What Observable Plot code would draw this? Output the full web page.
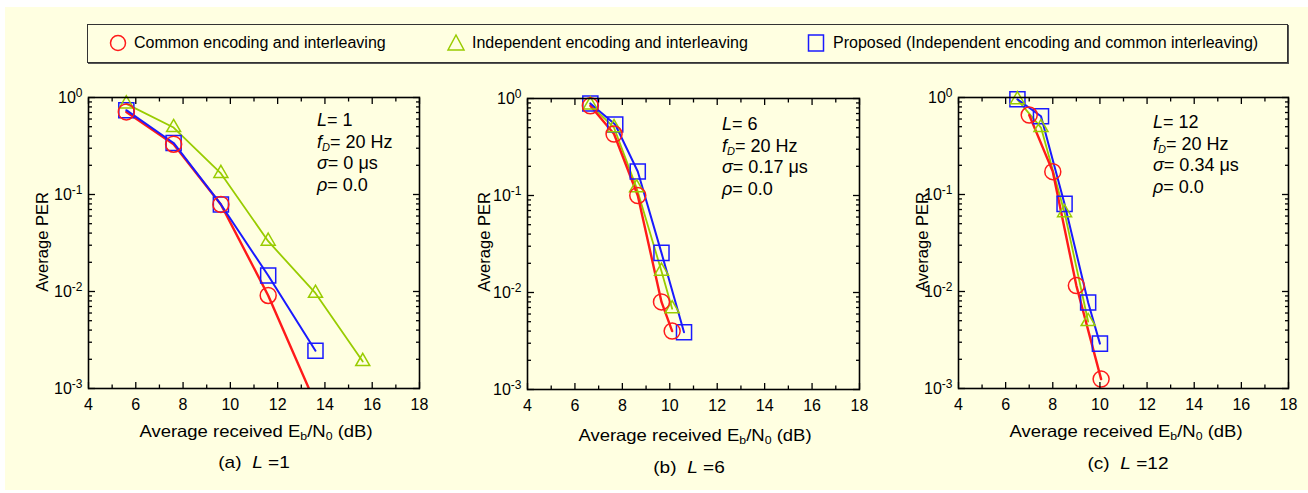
<!DOCTYPE html>
<html><head><meta charset="utf-8">
<script src="https://cdn.jsdelivr.net/npm/d3@7"></script>
<script src="https://cdn.jsdelivr.net/npm/@observablehq/plot@0.6"></script>
<style>
html,body{margin:0;padding:0;background:#fff;}
#root{position:relative;width:1308px;height:493px;overflow:hidden;font-family:"Liberation Sans",Arial,sans-serif;color:#000;}
#bg{position:absolute;left:5px;top:7px;right:0;bottom:3px;background:#ffffe1;}
.abs{position:absolute;white-space:nowrap;line-height:18px;}
.c{transform:translate(-50%,-50%);}
.cw{transform:translate(-50%,-50%) scaleX(1.12);}
.rot{transform:translate(-50%,-50%) rotate(-90deg);}
sub{font-size:11px;vertical-align:-3px;line-height:0;}
.ann{font-size:18px;line-height:21.7px;}
.chart{position:absolute;}
#legend{position:absolute;left:87px;top:24px;width:1199px;height:37px;border:1px solid #333;box-shadow:1px 1px 0 #555;}
</style></head>
<body><div id="root"><div id="bg"></div></div>
<script>
// ---------------- data ----------------
const seriesNames = ["Common encoding and interleaving", "Independent encoding and interleaving", "Proposed (Independent encoding and common interleaving)"];
const seriesColors = ["#ff1a1a", "#99cc00", "#1a1aff"];
const seriesSymbols = ["circle", "triangle", "square"];
const xTicks = [4, 6, 8, 10, 12, 14, 16, 18];
const xMinorTicks = [5, 7, 9, 11, 13, 15, 17];
const yTicks = [1e-3, 1e-2, 1e-1, 1];
const panelTags = ["(a)", "(b)", "(c)"];
const panelL = ["1", "6", "12"];
const panelSigma = ["0", "0.17", "0.34"];
const panelRho = ["0.0", "0.0", "0.0"];
const fD = "20";

// panel (a) L = 1
const aCommonX = [5.6, 7.6, 9.6, 11.6, 13.6];
const aCommonY = [0.71, 0.33, 0.079, 0.0091, 0.0007];
const aIndepX = [5.6, 7.6, 9.6, 11.6, 13.6, 15.6];
const aIndepY = [0.86, 0.49, 0.165, 0.033, 0.0096, 0.0019];
const aPropX = [5.6, 7.6, 9.6, 11.6, 13.6];
const aPropY = [0.74, 0.34, 0.079, 0.0146, 0.00245];
// panel (b) L = 6
const bCommonX = [6.65, 7.65, 8.65, 9.65, 10.1];
const bCommonY = [0.84, 0.43, 0.1, 0.008, 0.004];
const bIndepX = [6.65, 7.65, 8.6, 9.65, 10.1];
const bIndepY = [0.86, 0.5, 0.12, 0.0166, 0.0068];
const bPropX = [6.65, 7.7, 8.65, 9.65, 10.6];
const bPropY = [0.89, 0.54, 0.177, 0.0256, 0.0039];
// panel (c) L = 12
const cCommonX = [7.0, 8.0, 9.0, 10.05];
const cCommonY = [0.66, 0.172, 0.0115, 0.00125];
const cIndepX = [6.5, 7.5, 8.5, 9.5];
const cIndepY = [0.95, 0.49, 0.065, 0.0049];
const cPropX = [6.5, 7.5, 8.5, 9.5, 10.0];
const cPropY = [0.96, 0.64, 0.08, 0.0077, 0.0029];

// ---------------- layout ----------------
const root = document.getElementById("root");
function addDiv(html, cls, left, top, style = "") {
  const d = document.createElement("div");
  d.className = "abs " + cls;
  d.style.cssText = `left:${left}px;top:${top}px;` + style;
  d.innerHTML = html;
  root.appendChild(d);
  return d;
}

// legend
const legend = document.createElement("div");
legend.id = "legend";
root.appendChild(legend);
const legendPos = [[118, 134], [456, 472], [816, 833]];
function symbolSvg(sym, color) {
  let shape;
  if (sym === "circle") shape = `<circle cx="10" cy="10" r="7.5" fill="none" stroke="${color}" stroke-width="1.5"/>`;
  else if (sym === "triangle") shape = `<path d="M10,2 L18,17 L2,17 Z" fill="none" stroke="${color}" stroke-width="1.5"/>`;
  else shape = `<rect x="2.5" y="2" width="15" height="16" fill="none" stroke="${color}" stroke-width="1.5"/>`;
  return `<svg width="20" height="20" style="display:block">${shape}</svg>`;
}
seriesNames.forEach((name, i) => {
  addDiv(symbolSvg(seriesSymbols[i], seriesColors[i]), "", legendPos[i][0] - 10, 33);
  addDiv(name, "", legendPos[i][1], 34, "font-size:16px;");
});

const panels = [
  {left: 0, width: 440, ml: 88, mr: 21, top: 70, height: 350, mt: 27, mb: 32,
   series: [[aCommonX, aCommonY], [aIndepX, aIndepY], [aPropX, aPropY]],
   ylab: 42, xlab: [256, 431], cap: [254, 463], ann: [317, 110]},
  {left: 440, width: 440, ml: 87, mr: 21, top: 70, height: 350, mt: 28, mb: 31,
   series: [[bCommonX, bCommonY], [bIndepX, bIndepY], [bPropX, bPropY]],
   ylab: 484, xlab: [695, 435], cap: [689, 468], ann: [722, 114]},
  {left: 880, width: 428, ml: 78, mr: 20, top: 70, height: 350, mt: 27, mb: 32,
   series: [[cCommonX, cCommonY], [cIndepX, cIndepY], [cPropX, cPropY]],
   ylab: 922, xlab: [1126, 431], cap: [1128, 464], ann: [1153, 112]}
];

const yMinor = [];
[1e-3, 1e-2, 1e-1].forEach(d => { for (let k = 2; k <= 9; k++) yMinor.push(d * k); });

panels.forEach((p, pi) => {
  const rows = p.series.map(([xs, ys], si) => xs.map((x, i) => ({x, y: ys[i], s: si})));
  const lineW = [2.4, 1.8, 2.0];
  const dotR = [8, 5.2, 8.5];
  const lineOrder = [1, 0, 2];
  const dotOrder = [2, 1, 0];
  const marks = [];
  lineOrder.forEach(si => marks.push(Plot.line(rows[si], {x: "x", y: "y", stroke: seriesColors[si], strokeWidth: lineW[si], clip: true})));
  dotOrder.forEach(si => marks.push(Plot.dot(rows[si].filter(d => d.y >= 1e-3), {x: "x", y: "y", symbol: seriesSymbols[si], r: dotR[si], stroke: seriesColors[si], strokeWidth: 1.5, fill: "none"})));
  const blank = () => "";
  const MJ = 6, MN = 3.5;
  const tk = {tickFormat: blank, label: null, strokeWidth: 1.3};
  marks.push(
    Plot.axisX({anchor: "bottom", ticks: xTicks, tickSize: 0, tickPadding: 10, tickFormat: d => String(d), fontSize: 16, label: null}),
    Plot.axisX({anchor: "bottom", ticks: xTicks, tickSize: MJ, dy: -MJ, ...tk}),
    Plot.axisX({anchor: "bottom", ticks: xMinorTicks, tickSize: MN, dy: -MN, ...tk}),
    Plot.axisX({anchor: "top", ticks: xTicks, tickSize: MJ, dy: MJ, ...tk}),
    Plot.axisX({anchor: "top", ticks: xMinorTicks, tickSize: MN, dy: MN, ...tk}),
    Plot.axisY({anchor: "left", ticks: yTicks, tickSize: 0, tickPadding: 6, tickFormat: d => "10^" + Math.round(Math.log10(d)), fontSize: 16, label: null}),
    Plot.axisY({anchor: "left", ticks: yTicks, tickSize: 7, dx: 7, ...tk}),
    Plot.axisY({anchor: "left", ticks: yMinor, tickSize: 4, dx: 4, ...tk}),
    Plot.axisY({anchor: "right", ticks: yTicks, tickSize: 7, dx: -7, ...tk}),
    Plot.axisY({anchor: "right", ticks: yMinor, tickSize: 4, dx: -4, ...tk}),
    Plot.frame({stroke: "#000", strokeWidth: 1.6})
  );
  const svg = Plot.plot({
    width: p.width, height: p.height,
    marginLeft: p.ml, marginRight: p.mr, marginTop: p.mt, marginBottom: p.mb,
    x: {domain: [4, 18]},
    y: {type: "log", domain: [1e-3, 1]},
    style: {background: "transparent", fontFamily: "'Liberation Sans', Arial, sans-serif", fontSize: "16px", color: "#000", overflow: "visible"},
    marks
  });
  d3.select(svg).selectAll("text").each(function () {
    const m = /^10\^(-?\d+)$/.exec(this.textContent);
    if (m) {
      const t = d3.select(this);
      t.text("10");
      t.append("tspan").attr("dy", "-0.5em").attr("font-size", "12px").text(m[1]);
    }
  });
  svg.classList.add("chart");
  svg.style.left = p.left + "px";
  svg.style.top = p.top + "px";
  root.appendChild(svg);

  addDiv("Average PER", "rot", p.ylab, 242, "font-size:16.5px;");
  addDiv("Average received E<sub>b</sub>/N<sub>0</sub> (dB)", "cw", p.xlab[0], p.xlab[1], "font-size:16.5px;");
  addDiv(`${panelTags[pi]}&nbsp; <i>L</i> =${panelL[pi]}`, "cw", p.cap[0], p.cap[1], "font-size:17px;");
  addDiv(`<i>L</i>= ${panelL[pi]}<br><i>f<sub>D</sub></i>= ${fD} Hz<br><i>σ</i>= ${panelSigma[pi]} μs<br><i>ρ</i>= ${panelRho[pi]}`, "ann", p.ann[0], p.ann[1]);
});
</script>
</body></html>
